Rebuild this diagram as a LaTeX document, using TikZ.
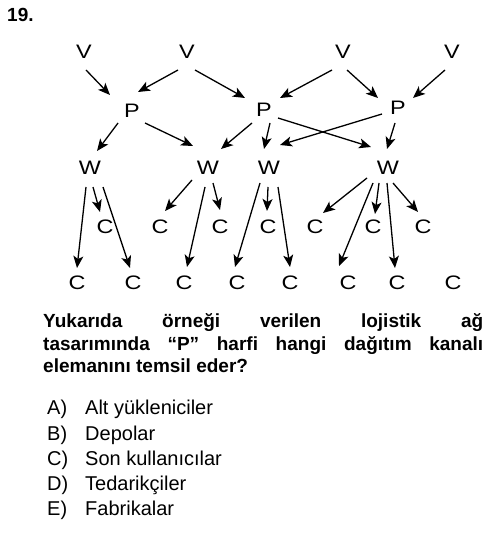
\documentclass[tikz,border=0pt]{standalone}
\usepackage{fontspec}
\setmainfont{Liberation Sans}
\newfontfamily\diagfont[FakeStretch=1.2]{Liberation Sans}
\usetikzlibrary{arrows.meta}
\begin{document}
\begin{tikzpicture}[x=1pt,y=-1pt,
  lbl/.style={inner sep=0pt,font=\diagfont\fontsize{19.5}{20}\selectfont},
  arr/.style={line width=1.3pt,-{Stealth[length=12pt,width=10pt,inset=3pt]}},
  txt/.style={inner sep=0pt,anchor=base west},
  qfont/.style={font=\fontsize{19}{22}\selectfont\bfseries},
  ofont/.style={font=\fontsize{20}{24}\selectfont}]
\useasboundingbox (0,0) rectangle (500,537);
% title
\node[txt,qfont] (num) at (7,22) {19.};
% V nodes
\node[lbl] (V1) at (84,52) {V};
\node[lbl] (V2) at (187,52) {V};
\node[lbl] (V3) at (343,52) {V};
\node[lbl] (V4) at (452,52) {V};
% P nodes
\node[lbl] (P1) at (132,111) {P};
\node[lbl] (P2) at (264,110) {P};
\node[lbl] (P3) at (398,108) {P};
% W nodes
\node[lbl] (W1) at (90,168) {W};
\node[lbl] (W2) at (208,168) {W};
\node[lbl] (W3) at (269,168) {W};
\node[lbl] (W4) at (388,168) {W};
% C middle
\node[lbl] (Cm1) at (105,227) {C};
\node[lbl] (Cm2) at (160,227) {C};
\node[lbl] (Cm3) at (220,227) {C};
\node[lbl] (Cm4) at (268,227) {C};
\node[lbl] (Cm5) at (315,227) {C};
\node[lbl] (Cm6) at (373,227) {C};
\node[lbl] (Cm7) at (423,227) {C};
% C bottom
\node[lbl] (Cb1) at (77,283) {C};
\node[lbl] (Cb2) at (133,283) {C};
\node[lbl] (Cb3) at (184,283) {C};
\node[lbl] (Cb4) at (237,283) {C};
\node[lbl] (Cb5) at (290,283) {C};
\node[lbl] (Cb6) at (348,283) {C};
\node[lbl] (Cb7) at (397,283) {C};
\node[lbl] (Cb8) at (453,283) {C};
% V -> P
\draw[arr] ([shift={(2,18)}]V1.center) -- ([shift={(-22,-16)}]P1.center);
\draw[arr] ([shift={(-9,18)}]V2.center) -- ([shift={(6,-19)}]P1.center);
\draw[arr] ([shift={(8,18)}]V2.center) -- ([shift={(-19,-12)}]P2.center);
\draw[arr] ([shift={(-11,18)}]V3.center) -- ([shift={(16,-12)}]P2.center);
\draw[arr] ([shift={(4,18)}]V3.center) -- ([shift={(-20,-10)}]P3.center);
\draw[arr] ([shift={(-7,18)}]V4.center) -- ([shift={(15,-10)}]P3.center);
% P -> W
\draw[arr] ([shift={(-14,12)}]P1.center) -- ([shift={(7,-17)}]W1.center);
\draw[arr] ([shift={(13,12)}]P1.center) -- ([shift={(-15,-22)}]W2.center);
\draw[arr] ([shift={(-12,13)}]P2.center) -- ([shift={(13,-19)}]W2.center);
\draw[arr] ([shift={(6,13)}]P2.center) -- ([shift={(-5,-19)}]W3.center);
\draw[arr] ([shift={(14,8)}]P2.center) -- ([shift={(-17,-21)}]W4.center);
\draw[arr] ([shift={(-16,6)}]P3.center) -- ([shift={(11,-23)}]W3.center);
\draw[arr] ([shift={(-3,15)}]P3.center) -- ([shift={(-1,-19)}]W4.center);
% W1
\draw[arr] ([shift={(3,19)}]W1.center) -- ([shift={(-5,-15)}]Cm1.center);
\draw[arr] ([shift={(-4,19)}]W1.center) -- ([shift={(0,-15)}]Cb1.center);
\draw[arr] ([shift={(13,19)}]W1.center) -- ([shift={(-3,-15)}]Cb2.center);
% W2
\draw[arr] ([shift={(-16,12)}]W2.center) -- ([shift={(5,-16)}]Cm2.center);
\draw[arr] ([shift={(-3,19)}]W2.center) -- ([shift={(3,-16)}]Cb3.center);
\draw[arr] ([shift={(5,15)}]W2.center) -- ([shift={(0,-17)}]Cm3.center);
% W3
\draw[arr] ([shift={(-9,15)}]W3.center) -- ([shift={(-2,-16)}]Cb4.center);
\draw[arr] ([shift={(-1,19)}]W3.center) -- ([shift={(-1,-16)}]Cm4.center);
\draw[arr] ([shift={(9,19)}]W3.center) -- ([shift={(0,-16)}]Cb5.center);
% W4
\draw[arr] ([shift={(-21,10)}]W4.center) -- ([shift={(8,-14)}]Cm5.center);
\draw[arr] ([shift={(-15,15)}]W4.center) -- ([shift={(-9,-17)}]Cb6.center);
\draw[arr] ([shift={(-9,15)}]W4.center) -- ([shift={(2,-13)}]Cm6.center);
\draw[arr] ([shift={(-1,15)}]W4.center) -- ([shift={(-2,-15)}]Cb7.center);
\draw[arr] ([shift={(5,15)}]W4.center) -- ([shift={(-5,-15)}]Cm7.center);
% question
\node[txt,qfont] (q1) at (43,327) {\makebox[440pt][s]{Yukarıda örneği verilen lojistik ağ}};
\node[txt,qfont] (q2) at (43,350) {\makebox[440pt][s]{tasarımında “P” harfi hangi dağıtım kanalı}};
\node[txt,qfont] (q3) at (43,372) {elemanını temsil eder?};
% options
\node[txt,ofont] (oA) at (47,414) {A)};
\node[txt,ofont] (tA) at (85,414) {Alt yükleniciler};
\node[txt,ofont] (oB) at (47,440) {B)};
\node[txt,ofont] (tB) at (85,440) {Depolar};
\node[txt,ofont] (oC) at (47,465) {C)};
\node[txt,ofont] (tC) at (85,465) {Son kullanıcılar};
\node[txt,ofont] (oD) at (47,490) {D)};
\node[txt,ofont] (tD) at (85,490) {Tedarikçiler};
\node[txt,ofont] (oE) at (47,515) {E)};
\node[txt,ofont] (tE) at (85,515) {Fabrikalar};
\end{tikzpicture}
\end{document}
